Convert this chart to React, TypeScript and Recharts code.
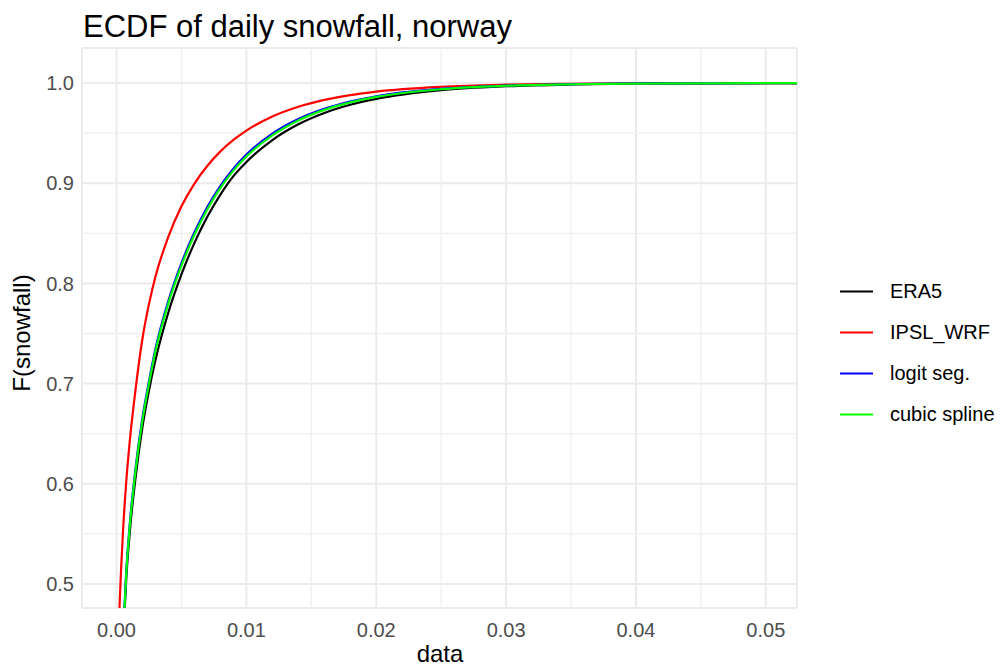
import { CartesianGrid, Line, LineChart, ReferenceLine, XAxis, YAxis } from "recharts";

// daily snowfall amounts where the ECDFs are sampled
const snowX = [0, 0.00025, 0.0005, 0.00075, 0.001, 0.0015, 0.002, 0.0025, 0.003, 0.004, 0.005, 0.006, 0.007, 0.008, 0.009, 0.01, 0.012, 0.014, 0.016, 0.018, 0.02, 0.025, 0.03, 0.035, 0.04, 0.045, 0.06];

// F(snowfall) for each source at the amounts above
const era5 = [0.3, 0.37, 0.44, 0.506, 0.549, 0.61, 0.657, 0.6933, 0.7237, 0.7715, 0.8091, 0.8405, 0.8668, 0.8887, 0.9071, 0.9212, 0.9431, 0.9588, 0.9701, 0.9783, 0.9842, 0.9929, 0.9968, 0.99857, 0.99936, 0.99971, 1];
const ipslWrf = [0.386, 0.484, 0.553, 0.6025, 0.64, 0.698, 0.7453, 0.7796, 0.807, 0.847, 0.877, 0.8997, 0.9175, 0.9318, 0.9433, 0.9526, 0.9666, 0.9763, 0.9832, 0.988, 0.9915, 0.9963, 0.9984, 0.9993, 0.9997, 0.9999, 1];
const logitSeg = [0.3, 0.375, 0.447, 0.513, 0.557, 0.6195, 0.6663, 0.7025, 0.7348, 0.7829, 0.8202, 0.851, 0.8766, 0.8975, 0.9146, 0.9286, 0.9495, 0.9641, 0.9742, 0.9815, 0.9868, 0.9942, 0.99754, 0.99894, 0.99959, 0.99978, 1];
const cubicSpline = [0.3, 0.372, 0.445, 0.511, 0.555, 0.617, 0.6638, 0.7, 0.7323, 0.7804, 0.8177, 0.8485, 0.8741, 0.8953, 0.9126, 0.9266, 0.9478, 0.9627, 0.9732, 0.9807, 0.9862, 0.9939, 0.99734, 0.99884, 0.99949, 0.99978, 1];

const xTicks = [0, 0.01, 0.02, 0.03, 0.04, 0.05];
const xMinor = [0.005, 0.015, 0.025, 0.035, 0.045];
const yTicks = [0.5, 0.6, 0.7, 0.8, 0.9, 1.0];
const yMinor = [0.55, 0.65, 0.75, 0.85, 0.95];

const series = [
  { key: "era5", name: "ERA5", color: "#000000", values: era5 },
  { key: "ipsl", name: "IPSL_WRF", color: "#ff0000", values: ipslWrf },
  { key: "logit", name: "logit seg.", color: "#0000ff", values: logitSeg },
  { key: "spline", name: "cubic spline", color: "#00ff00", values: cubicSpline },
];

const data = snowX.map((x, i) => {
  const row: Record<string, number> = { x };
  series.forEach((s) => (row[s.key] = s.values[i]));
  return row;
});

const FONT = "'Liberation Sans', Arial, sans-serif";

export default function App() {
  return (
    <div
      style={{
        position: "absolute",
        left: 0,
        top: 0,
        width: 1000,
        height: 670,
        background: "#ffffff",
        fontFamily: FONT,
      }}
    >
      <div
        style={{
          position: "absolute",
          left: 83,
          top: 11,
          fontSize: 31,
          lineHeight: "31px",
          color: "#000",
          whiteSpace: "nowrap",
        }}
      >
        ECDF of daily snowfall, norway
      </div>

      <LineChart
        width={1000}
        height={670}
        data={data}
        margin={{ top: 48, right: 203, bottom: 0, left: 0 }}
        style={{ fontFamily: FONT }}
      >
        <CartesianGrid stroke="#ebebeb" strokeWidth={2} />
        {xMinor.map((v) => (
          <ReferenceLine key={`vx${v}`} x={v} stroke="#efefef" strokeWidth={1.3} />
        ))}
        {yMinor.map((v) => (
          <ReferenceLine key={`hy${v}`} y={v} stroke="#efefef" strokeWidth={1.3} />
        ))}
        <XAxis
          type="number"
          dataKey="x"
          domain={[-0.00266, 0.0524]}
          allowDataOverflow
          ticks={xTicks}
          tickFormatter={(v: number) => v.toFixed(2)}
          axisLine={false}
          tickLine={false}
          tickSize={0}
          tickMargin={15}
          height={62}
          tick={{ fill: "#4d4d4d", fontSize: 20 }}
        />
        <YAxis
          type="number"
          domain={[0.476, 1.035]}
          allowDataOverflow
          ticks={yTicks}
          tickFormatter={(v: number) => v.toFixed(1)}
          axisLine={false}
          tickLine={false}
          tickSize={0}
          tickMargin={8}
          width={82}
          tick={{ fill: "#4d4d4d", fontSize: 20 }}
        />
        {series.map((s) => (
          <Line
            key={s.key}
            dataKey={s.key}
            name={s.name}
            type="monotone"
            stroke={s.color}
            strokeWidth={2.2}
            dot={false}
            activeDot={false}
            isAnimationActive={false}
          />
        ))}
      </LineChart>

      {/* axis titles */}
      <div
        style={{
          position: "absolute",
          left: 390,
          width: 100,
          top: 642,
          textAlign: "center",
          fontSize: 24,
          lineHeight: "24px",
          color: "#000",
        }}
      >
        data
      </div>
      <div
        style={{
          position: "absolute",
          left: 22 - 80,
          top: 333 - 12,
          width: 160,
          textAlign: "center",
          fontSize: 24,
          lineHeight: "24px",
          color: "#000",
          transform: "rotate(-90deg)",
        }}
      >
        F(snowfall)
      </div>

      {/* legend */}
      <div style={{ position: "absolute", left: 838, top: 271 }}>
        {series.map((s) => (
          <div key={s.key} style={{ display: "flex", alignItems: "center", height: 41 }}>
            <svg width={36} height={41}>
              <line x1={2} x2={35} y1={20.5} y2={20.5} stroke={s.color} strokeWidth={2.2} />
            </svg>
            <span style={{ marginLeft: 16, fontSize: 20, color: "#000", whiteSpace: "nowrap" }}>
              {s.name}
            </span>
          </div>
        ))}
      </div>
    </div>
  );
}
